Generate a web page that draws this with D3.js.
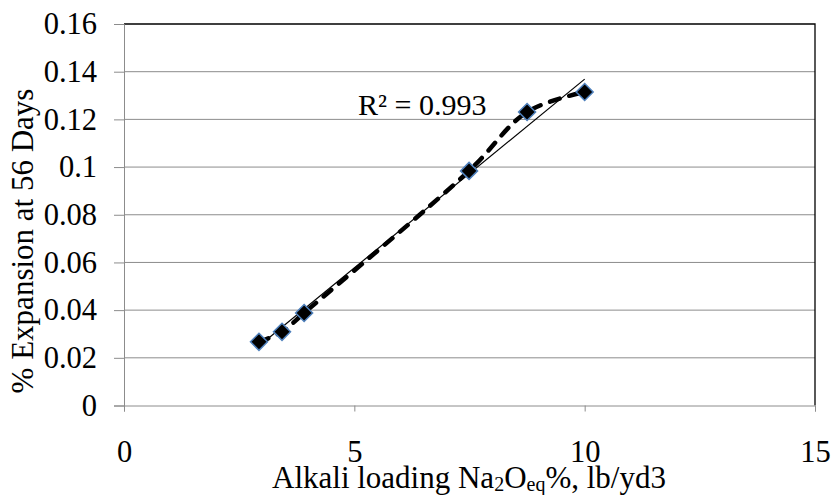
<!DOCTYPE html>
<html>
<head>
<meta charset="utf-8">
<script src="https://cdn.jsdelivr.net/npm/d3@7"></script>
</head>
<body style="margin:0">
<script>
/* Expansion vs alkali loading, with linear trendline */

const alkali = [2.93, 3.43, 3.91, 7.49, 8.75, 10.0];
const expansion = [0.0267, 0.0309, 0.0388, 0.0984, 0.1231, 0.1315];
const xTicks = [0, 5, 10, 15];
const yTicks = [0, 0.02, 0.04, 0.06, 0.08, 0.1, 0.12, 0.14, 0.16];
const r2Label = "R² = 0.993";

const data = alkali.map((a, i) => ({ x: a, y: expansion[i] }));

const width = 834,
      height = 495,
      margin = ({ top: 24, right: 19, bottom: 89.5, left: 124 });

let svg = d3.select("body")
            .append("svg")
            .attr("width", width)
            .attr("height", height)
            .attr("font-family", "Times New Roman");

const x = d3.scaleLinear()
            .domain([0, 15])
            .range([margin.left, width - margin.right]);

const y = d3.scaleLinear()
            .domain([0, 0.16])
            .range([height - margin.bottom, margin.top]);

// gridlines
svg.append("g")
    .selectAll("line")
    .data(yTicks.slice(1, -1))
    .join("line")
    .attr("x1", margin.left)
    .attr("x2", width - margin.right)
    .attr("y1", d => y(d))
    .attr("y2", d => y(d))
    .attr("stroke", "#8c8c8c")
    .attr("stroke-width", 1);

// top and right border
svg.append("path")
    .attr("d", `M${margin.left},${y(0.16)}H${x(15)}V${y(0)}`)
    .attr("fill", "none")
    .attr("stroke", "#000")
    .attr("stroke-width", 1.3);

svg.append("g")
    .attr("transform", `translate(0,${y(0)})`)
    .call(d3.axisBottom(x).tickValues(xTicks).tickSize(6).tickPadding(29).tickFormat(d3.format("d")))
    .call(g => g.selectAll("line, path").attr("stroke", "#8c8c8c"));

svg.append("g")
    .attr("transform", `translate(${margin.left},0)`)
    .call(d3.axisLeft(y).tickValues(yTicks).tickSize(10).tickPadding(17).tickFormat(d => d === 0 ? "0" : String(+d.toFixed(2))))
    .call(g => g.selectAll("line, path").attr("stroke", "#8c8c8c"));

// undo the axis font defaults
svg.selectAll("g")
    .attr("font-family", null)
    .attr("font-size", null);
svg.selectAll("text")
    .attr("fill", "#000")
    .attr("font-family", "Times New Roman")
    .attr("font-size", 30.5);

// linear trendline from least squares
const mx = d3.mean(alkali), my = d3.mean(expansion);
const slope = d3.sum(data, d => (d.x - mx) * (d.y - my)) / d3.sum(data, d => (d.x - mx) ** 2);
const icpt = my - slope * mx;
const xr = d3.extent(alkali);

svg.append("line")
    .attr("x1", x(xr[0]))
    .attr("y1", y(icpt + slope * xr[0]))
    .attr("x2", x(xr[1]))
    .attr("y2", y(icpt + slope * xr[1]))
    .attr("stroke", "#000")
    .attr("stroke-width", 1.2);

// smoothed dashed series line
const line = d3.line()
    .x(d => x(d.x))
    .y(d => y(d.y))
    .curve(d3.curveCatmullRom.alpha(0.5));

svg.append("path")
    .datum(data)
    .attr("d", line)
    .attr("fill", "none")
    .attr("stroke", "#000")
    .attr("stroke-width", 4.5)
    .attr("stroke-linecap", "round")
    .attr("stroke-dasharray", "10,10");

// diamond markers
svg.append("g")
    .selectAll("path")
    .data(data)
    .join("path")
    .attr("transform", d => `translate(${x(d.x)},${y(d.y)})`)
    .attr("d", "M0,-8.5L8.5,0L0,8.5L-8.5,0Z")
    .attr("fill", "#000")
    .attr("stroke", "#4f81bd")
    .attr("stroke-width", 1.5);

svg.append("text")
    .attr("x", 358)
    .attr("y", 115)
    .attr("font-family", "Times New Roman")
    .attr("font-size", 30)
    .text(r2Label);

// axis titles
const xt = svg.append("text")
    .attr("x", 469)
    .attr("y", 488)
    .attr("text-anchor", "middle")
    .attr("font-family", "Times New Roman")
    .attr("font-size", 31);
xt.append("tspan").text("Alkali loading Na");
xt.append("tspan").attr("font-size", 20).attr("dy", 3).text("2");
xt.append("tspan").attr("dy", -3).text("O");
xt.append("tspan").attr("font-size", 20).attr("dy", 3).text("eq");
xt.append("tspan").attr("dy", -3).text("%, lb/yd3");

svg.append("text")
    .attr("transform", `translate(33,241) rotate(-90)`)
    .attr("text-anchor", "middle")
    .attr("font-family", "Times New Roman")
    .attr("font-size", 31)
    .text("% Expansion at 56 Days");
</script>
</body>
</html>
